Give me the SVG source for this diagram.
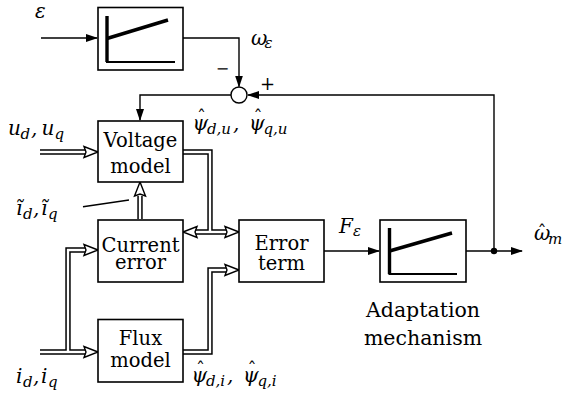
<svg xmlns="http://www.w3.org/2000/svg" width="566" height="403" viewBox="0 0 566 403">
<style>
text{font-family:'DejaVu Serif',serif;fill:#000}
.box{fill:#fff;stroke:#000;stroke-width:1.6}
.t{font-size:19.5px;text-anchor:middle}
.ta{font-size:20.5px;text-anchor:middle}
.m{font-size:20px;font-style:italic}
.s{font-size:15px}
.h{font-size:18px;text-anchor:middle}
.ln{fill:none;stroke:#000;stroke-width:1.4}
.dbo{fill:none;stroke:#000;stroke-width:5.4}
.dbi{fill:none;stroke:#fff;stroke-width:2.4}
.oh{fill:#fff;stroke:#000;stroke-width:1.4;stroke-linejoin:miter}
.thick{stroke:#000;stroke-width:3.4;fill:none}
.thin{stroke:#000;stroke-width:2;fill:none}
</style>
<defs>
<marker id="ah" markerWidth="12" markerHeight="8" refX="11" refY="4" orient="auto" markerUnits="userSpaceOnUse">
<path d="M0,0 L12,4 L0,8 Z" fill="#000"/>
</marker>
</defs>

<g id="connectors">
<path class="ln" d="M41,38 H97" marker-end="url(#ah)"/>
<path class="ln" d="M183,38 H239 V86.5" marker-end="url(#ah)"/>
<path class="ln" d="M231,95 H140 V120" marker-end="url(#ah)"/>
<path class="ln" d="M494,251 V95 H248" marker-end="url(#ah)"/>
<path class="ln" d="M324,251 H379" marker-end="url(#ah)"/>
<path class="ln" d="M466,251 H522" marker-end="url(#ah)"/>
<circle cx="494" cy="251" r="3.2" fill="#000"/>
<line class="ln" x1="83" y1="206.7" x2="129" y2="200" stroke-width="1.1"/>
<path class="dbo" d="M40,152 H86"/>
<path class="dbo" d="M183,152 H210 V232 M196,232 H226"/>
<path class="dbo" d="M140,219 V196"/>
<path class="dbo" d="M40,352 H86 M68,352 V250 H86"/>
<path class="dbo" d="M183,352 H210 V270 H226"/>
<path class="dbi" d="M38,152 H88"/>
<path class="dbi" d="M182,152 H210 V232 M194,232 H228"/>
<path class="dbi" d="M140,221 V194"/>
<path class="dbi" d="M38,352 H88 M68,352 V250 H88"/>
<path class="dbi" d="M182,352 H210 V270 H228"/>
<path class="oh" d="M98,152 L84,146.5 L86,152 L84,157.5 Z"/>
<path class="oh" d="M98,250 L84,244.5 L86,250 L84,255.5 Z"/>
<path class="oh" d="M98,352 L84,346.5 L86,352 L84,357.5 Z"/>
<path class="oh" d="M183,232 L197,226.5 L195,232 L197,237.5 Z"/>
<path class="oh" d="M239,232 L225,226.5 L227,232 L225,237.5 Z"/>
<path class="oh" d="M239,270 L225,264.5 L227,270 L225,275.5 Z"/>
<path class="oh" d="M140,182 L134.5,196 L140,194 L145.5,196 Z"/>
</g>

<g id="sum">
<circle cx="239" cy="95" r="8" fill="#fff" stroke="#000" stroke-width="1.4"/>
</g>

<g id="limiter-top">
<rect class="box" x="98" y="7.5" width="85" height="62.5"/>
<line class="thick" x1="107" y1="16" x2="107" y2="62"/>
<line class="thin" x1="106" y1="62" x2="175" y2="62"/>
<line class="thick" x1="107" y1="38.5" x2="168" y2="20"/>
</g>

<g id="voltage-model">
<rect class="box" x="98" y="121" width="85" height="61"/>
<text class="t" x="140.5" y="147">Voltage</text>
<text class="t" x="140.5" y="173">model</text>
</g>

<g id="current-error">
<rect class="box" x="98" y="220" width="85" height="62"/>
<text class="t" x="140.5" y="251.5">Current</text>
<text class="t" x="140.5" y="268.5">error</text>
</g>

<g id="flux-model">
<rect class="box" x="98" y="319.5" width="85" height="62.5"/>
<text class="t" x="140.5" y="345">Flux</text>
<text class="t" x="140.5" y="367">model</text>
</g>

<g id="error-term">
<rect class="box" x="239" y="220" width="85" height="62"/>
<text class="t" x="281.5" y="250">Error</text>
<text class="t" x="281.5" y="270">term</text>
</g>

<g id="adaptation">
<rect class="box" x="380" y="220" width="86" height="62"/>
<line class="thick" x1="389.5" y1="228" x2="389.5" y2="274"/>
<line class="thin" x1="388.5" y1="274" x2="457" y2="274"/>
<line class="thick" x1="389.5" y1="251" x2="452" y2="233"/>
<text class="ta" x="423" y="317">Adaptation</text>
<text class="ta" x="423" y="345">mechanism</text>
</g>

<g id="labels">
<text class="m" x="35" y="18">ε</text>
<text class="m"><tspan x="251" y="45">ω</tspan><tspan class="s" x="264.5" y="48">ε</tspan></text>
<text style="font-size:16px;text-anchor:middle" x="222.5" y="74">−</text>
<text style="font-size:18px;text-anchor:middle" x="267.5" y="90">+</text>
<text class="m"><tspan x="8" y="135">u</tspan><tspan class="s" x="20.5" y="139">d</tspan><tspan x="31" y="135">,</tspan><tspan x="41.5" y="135">u</tspan><tspan class="s" x="54.5" y="139">q</tspan></text>
<text class="m"><tspan x="192.5" y="130">ψ</tspan><tspan class="s" x="207" y="134">d,u</tspan><tspan x="233" y="130">,</tspan><tspan x="249" y="130">ψ</tspan><tspan class="s" x="263.5" y="134">q,u</tspan></text>
<text class="h" x="201.5" y="124">ˆ</text>
<text class="h" x="258" y="124">ˆ</text>
<text class="m"><tspan x="16" y="215">ĩ</tspan><tspan class="s" x="23" y="219">d</tspan><tspan x="33" y="215">,</tspan><tspan x="41" y="215">ĩ</tspan><tspan class="s" x="48" y="219">q</tspan></text>
<text class="m"><tspan x="16" y="383">i</tspan><tspan class="s" x="23" y="387">d</tspan><tspan x="33" y="383">,</tspan><tspan x="41" y="383">i</tspan><tspan class="s" x="48" y="387">q</tspan></text>
<text class="m"><tspan x="191.5" y="382">ψ</tspan><tspan class="s" x="206" y="386">d,i</tspan><tspan x="227" y="382">,</tspan><tspan x="243" y="382">ψ</tspan><tspan class="s" x="257.5" y="386">q,i</tspan></text>
<text class="h" x="200.5" y="376">ˆ</text>
<text class="h" x="252" y="376">ˆ</text>
<text class="m"><tspan x="339" y="233">F</tspan><tspan class="s" x="353" y="236">ε</tspan></text>
<text class="m"><tspan x="534" y="240">ω</tspan><tspan class="s" x="548" y="244">m</tspan></text>
<text class="h" x="542" y="239">ˆ</text>
</g>
</svg>
